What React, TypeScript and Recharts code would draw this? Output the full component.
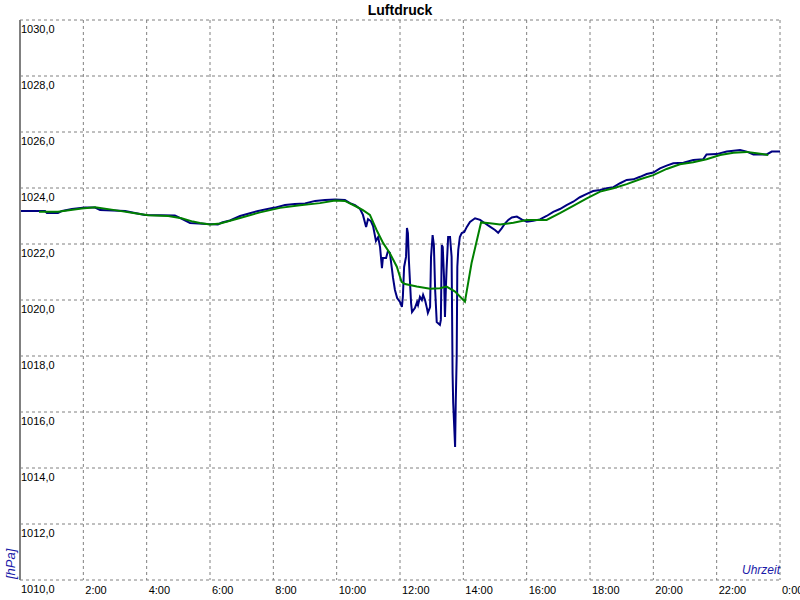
import { LineChart, Line, XAxis, YAxis, CartesianGrid } from 'recharts';

// Uhrzeit in Stunden, Luftdruck in hPa (gemessen)
const measuredHours = [
  0, 0.79, 0.85, 1.2, 1.33, 1.64, 2.05, 2.37, 2.53, 3.32, 3.63, 3.95, 4.89, 5.05, 5.37, 5.91, 6.25, 6.38,
  6.63, 6.95, 7.26, 7.52, 7.74, 8.05, 8.37, 8.68, 9.0, 9.32, 9.63, 9.95, 10.26, 10.42, 10.58, 10.74, 10.83,
  10.93, 10.99, 11.08, 11.15, 11.24, 11.31, 11.37, 11.43, 11.46, 11.56, 11.62, 11.68, 11.75, 11.78, 11.84,
  11.91, 12.0, 12.06, 12.09, 12.13, 12.19, 12.22, 12.25, 12.28, 12.35, 12.38, 12.47, 12.54, 12.57, 12.63,
  12.69, 12.73, 12.79, 12.85, 12.88, 12.95, 12.98, 13.03, 13.07, 13.11, 13.16, 13.26, 13.29, 13.32, 13.35,
  13.39, 13.42, 13.45, 13.47, 13.52, 13.58, 13.63, 13.66, 13.68, 13.74, 13.76, 13.79, 13.81, 13.84, 13.89,
  13.95, 14.03, 14.11, 14.21, 14.37, 14.53, 14.68, 14.84, 15.0, 15.1, 15.21, 15.32, 15.42, 15.53, 15.69,
  15.84, 16.0, 16.21, 16.42, 16.63, 16.84, 17.05, 17.26, 17.47, 17.68, 17.9, 18.1, 18.32, 18.53, 18.74,
  18.95, 19.16, 19.37, 19.58, 19.79, 20.0, 20.21, 20.42, 20.63, 20.95, 21.26, 21.58, 21.68, 22.0, 22.32,
  22.74, 22.95, 23.16, 23.58, 23.74, 24.0,
];
const measuredPressure = [
  1023.18, 1023.18, 1023.11, 1023.11, 1023.18, 1023.25, 1023.3, 1023.3, 1023.21, 1023.18, 1023.11, 1023.04,
  1023.02, 1022.93, 1022.75, 1022.71, 1022.7, 1022.77, 1022.84, 1023.0, 1023.1, 1023.18, 1023.23, 1023.3,
  1023.39, 1023.43, 1023.45, 1023.54, 1023.57, 1023.59, 1023.57, 1023.46, 1023.39, 1023.25, 1023.04,
  1022.61, 1022.89, 1022.82, 1022.64, 1022.11, 1022.25, 1021.89, 1021.14, 1021.5, 1021.5, 1021.75, 1021.68,
  1021.07, 1020.79, 1020.36, 1020.07, 1019.93, 1019.75, 1020.11, 1021.18, 1021.54, 1022.57, 1022.39,
  1021.43, 1019.89, 1019.57, 1019.71, 1019.93, 1019.82, 1020.11, 1020.0, 1020.18, 1020.0, 1019.71, 1019.54,
  1019.75, 1021.54, 1022.32, 1021.96, 1020.36, 1019.21, 1019.11, 1019.29, 1021.96, 1021.89, 1020.82,
  1019.39, 1020.46, 1021.07, 1022.25, 1022.25, 1021.54, 1017.39, 1016.32, 1014.75, 1016.32, 1017.96,
  1021.18, 1021.79, 1022.25, 1022.39, 1022.43, 1022.61, 1022.79, 1022.92, 1022.86, 1022.74, 1022.62,
  1022.5, 1022.4, 1022.56, 1022.74, 1022.86, 1022.95, 1022.98, 1022.88, 1022.8, 1022.83, 1022.88, 1023.0,
  1023.15, 1023.25, 1023.39, 1023.51, 1023.67, 1023.79, 1023.89, 1023.93, 1023.99, 1024.03, 1024.17,
  1024.29, 1024.31, 1024.4, 1024.5, 1024.55, 1024.7, 1024.8, 1024.88, 1024.9, 1025.0, 1025.03, 1025.2,
  1025.21, 1025.3, 1025.36, 1025.3, 1025.2, 1025.2, 1025.3, 1025.3,
];

// geglaetteter Verlauf
const smoothHours = [
  0.6, 1.2, 1.95, 2.37, 3.0, 3.63, 4.05, 4.68, 5.1, 5.46, 5.68, 6.0, 6.32, 6.95, 7.58, 8.21, 8.84, 9.47,
  9.95, 10.26, 10.63, 10.83, 11.05, 11.26, 11.47, 11.68, 11.9, 12.05, 12.16, 12.53, 12.95, 13.26, 13.47,
  13.74, 14.05, 14.26, 14.56, 14.84, 15.16, 15.58, 16.0, 16.63, 17.05, 17.47, 17.9, 18.32, 18.74, 19.16,
  19.58, 20.0, 20.42, 20.84, 21.26, 21.68, 22.11, 22.53, 22.95, 23.26, 23.63,
];
const smoothPressure = [
  1023.15, 1023.15, 1023.27, 1023.31, 1023.21, 1023.1, 1023.03, 1023.0, 1022.92, 1022.8, 1022.75, 1022.7,
  1022.73, 1022.93, 1023.13, 1023.29, 1023.38, 1023.46, 1023.55, 1023.54, 1023.33, 1023.21, 1023.04, 1022.5,
  1022.03, 1021.67, 1021.19, 1020.65, 1020.57, 1020.48, 1020.4, 1020.42, 1020.48, 1020.3, 1019.94, 1021.32,
  1022.77, 1022.74, 1022.7, 1022.76, 1022.86, 1022.86, 1023.1, 1023.36, 1023.63, 1023.87, 1023.99, 1024.14,
  1024.31, 1024.46, 1024.68, 1024.85, 1024.92, 1025.03, 1025.18, 1025.26, 1025.29, 1025.24, 1025.18,
];

const hourTicks = [0, 2, 4, 6, 8, 10, 12, 14, 16, 18, 20, 22, 24];
const pressureTicks = [1010, 1012, 1014, 1016, 1018, 1020, 1022, 1024, 1026, 1028, 1030];

const measured = measuredHours.map((h, i) => ({ h, p: measuredPressure[i] }));
const smooth = smoothHours.map((h, i) => ({ h, p: smoothPressure[i] }));

const tickFont = { fontFamily: '"Liberation Sans", Arial, sans-serif', fontSize: 11, fill: '#000' };

const HourTick = (props: any) => {
  const { x, y, payload } = props;
  if (payload.value === 0) return null;
  const label = `${payload.value % 24}:00`;
  return (
    <text x={x + 2} y={y + 14} textAnchor="start" {...tickFont}>
      {label}
    </text>
  );
};

const PressureTick = (props: any) => {
  const { x, y, payload } = props;
  return (
    <text x={x + 1} y={y + 13} textAnchor="start" {...tickFont}>
      {payload.value.toFixed(1).replace('.', ',')}
    </text>
  );
};

export default function App() {
  return (
    <div style={{ position: 'relative', width: 800, height: 600, background: '#fff' }}>
      <style>{'body{margin:0}'}</style>
      <div
        style={{
          position: 'absolute', top: 2, left: 0, width: 800, textAlign: 'center',
          fontFamily: '"Liberation Sans", Arial, sans-serif', fontWeight: 'bold', fontSize: 14,
        }}
      >
        Luftdruck
      </div>
      <LineChart width={800} height={600} margin={{ top: 20, right: 20, bottom: 0, left: 0 }}>
        <CartesianGrid stroke="#808080" strokeDasharray="3 3" />
        <XAxis
          dataKey="h"
          type="number"
          domain={[0, 24]}
          ticks={hourTicks}
          height={20}
          axisLine={false}
          tickLine={false}
          tickSize={0}
          tickMargin={0}
          tick={<HourTick />}
          interval={0}
          allowDataOverflow
        />
        <YAxis
          dataKey="p"
          type="number"
          domain={[1010, 1030]}
          ticks={pressureTicks}
          width={20}
          axisLine={{ stroke: '#808080', strokeWidth: 2 }}
          tickLine={false}
          tickSize={0}
          tickMargin={0}
          tick={<PressureTick />}
          interval={0}
          allowDataOverflow
        />
        <Line data={measured} dataKey="p" stroke="#000080" strokeWidth={2} dot={false} isAnimationActive={false} />
        <Line data={smooth} dataKey="p" stroke="#008000" strokeWidth={2} dot={false} isAnimationActive={false} />
      </LineChart>
      <div
        style={{
          position: 'absolute', left: 3, top: 579, transform: 'rotate(-90deg)', transformOrigin: 'left top',
          color: '#1a1aa8', fontStyle: 'italic', fontSize: 13, fontFamily: '"Liberation Sans", Arial, sans-serif',
          whiteSpace: 'nowrap', lineHeight: '15px',
        }}
      >
        [hPa]
      </div>
      <div
        style={{
          position: 'absolute', right: 20, top: 563, color: '#1a1aa8', fontStyle: 'italic', fontSize: 12,
          fontFamily: '"Liberation Sans", Arial, sans-serif', lineHeight: '14px',
        }}
      >
        Uhrzeit
      </div>
    </div>
  );
}
